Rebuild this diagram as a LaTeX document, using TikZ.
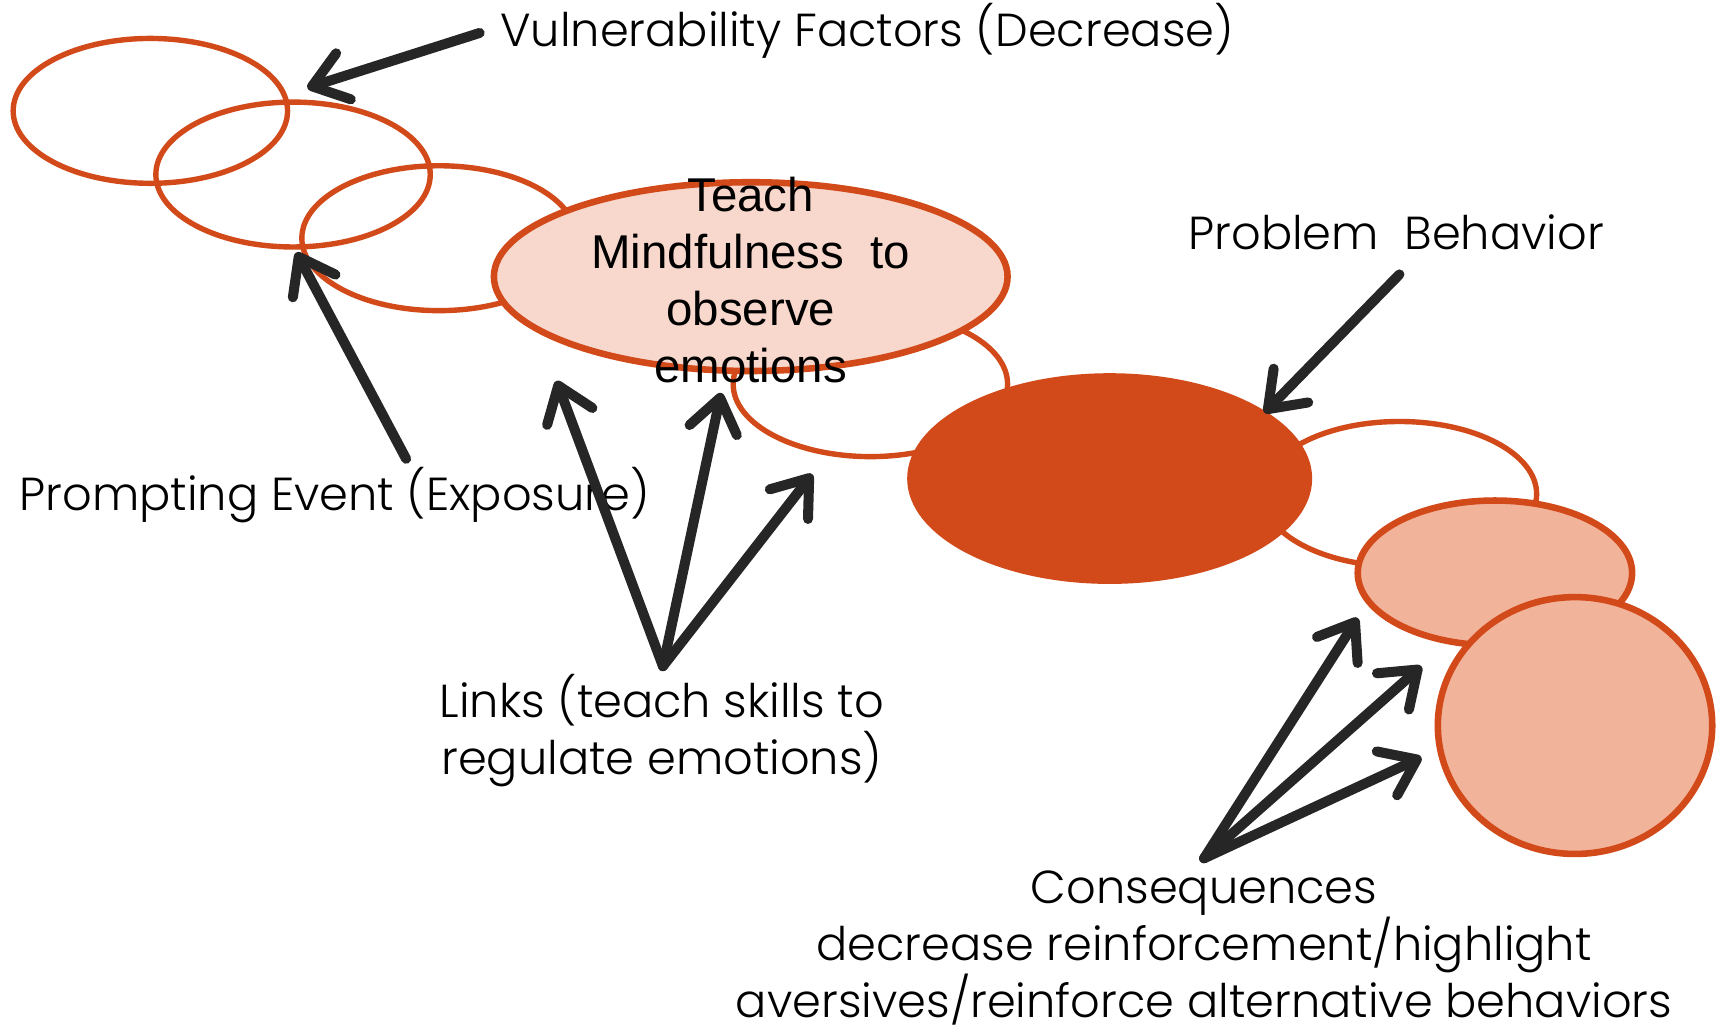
\documentclass[tikz,border=0pt]{standalone}
\usepackage{fontspec}
\usepackage{tikz}
\usetikzlibrary{shapes.geometric,arrows.meta}

\newfontfamily\gothic{Poppins}[UprightFont={* Light}]
\newfontfamily\arial{Liberation Sans}

\definecolor{rust}{HTML}{D24A1A}
\definecolor{blush}{HTML}{F8D8CC}
\definecolor{salmon}{HTML}{F2B39B}

\tikzset{
  ring/.style={ellipse, draw=rust, line width=1.4pt, inner sep=0pt,
    minimum width=2.5cm, minimum height=1.32cm},
  txt/.style={font=\gothic\fontsize{12}{14.8}\selectfont, align=center, inner sep=0pt},
  arr/.style={draw=black!85, line width=2.6pt, line cap=round,
    -{Straight Barb[length=3mm,width=4.4mm,round]}},
}

\begin{document}
\begin{tikzpicture}
  \useasboundingbox (0,0) rectangle (15.68,-9.40);

  % chain of links, back to front
  \node[ring] (e1) at (1.37,-1.01) {};
  \node[ring] (e2) at (2.67,-1.59) {};
  \node[ring] (e3) at (4.00,-2.17) {};
  \node[ring] (e5) at (7.93,-3.50) {};
  \node[ring, fill=blush, line width=1.7pt, minimum width=4.68cm, minimum height=1.72cm] (teach) at (6.84,-2.52) {};
  \node[ring] (e7) at (12.75,-4.50) {};
  \node[ellipse, fill=rust, inner sep=0pt, minimum width=3.69cm, minimum height=1.92cm] (prob) at (10.11,-4.36) {};
  \node[ring, fill=salmon, line width=1.7pt] (e8) at (13.62,-5.22) {};
  \node[ring, fill=salmon, line width=1.7pt, minimum height=2.34cm] (e9) at (14.35,-6.61) {};

  \node[align=center, inner sep=0pt, font=\arial\fontsize{12.3}{14.8}\selectfont] (teachtxt) at (6.84,-2.55)
    {Teach\\Mindfulness~ to\\observe\\emotions};

  % labels
  \node[txt] (vul) at (7.90,-0.28) {Vulnerability Factors (Decrease)};
  \node[txt] (prompt) at (3.05,-4.51) {Prompting Event (Exposure)};
  \node[txt] (pb) at (12.72,-2.12) {Problem~ Behavior};
  \node[txt] (links) at (6.03,-6.66) {Links (teach skills to\\regulate emotions)};
  \node[txt] (cons) at (10.97,-8.64) {Consequences\\decrease reinforcement/highlight\\aversives/reinforce alternative behaviors};

  % arrow ends
  \coordinate (vulT) at (4.37,-0.30);
  \coordinate (vulH) at (2.80,-0.80);
  \coordinate (prT) at (3.70,-4.18);
  \coordinate (prH) at (2.70,-2.30);
  \coordinate (pbT) at (12.75,-2.50);
  \coordinate (pbH) at (11.52,-3.76);
  \coordinate (lnO) at (6.04,-6.07);
  \coordinate (ln1) at (5.07,-3.47);
  \coordinate (ln2) at (6.57,-3.58);
  \coordinate (ln3) at (7.40,-4.32);
  \coordinate (csO) at (10.97,-7.82);
  \coordinate (cs1) at (12.37,-5.63);
  \coordinate (cs2) at (12.95,-6.07);
  \coordinate (cs3) at (12.95,-6.90);

  \draw[arr] (vulT) -- (vulH);
  \draw[arr] (prT) -- (prH);
  \draw[arr] (pbT) -- (pbH);
  \foreach \t in {ln1,ln2,ln3}
    \draw[arr] (lnO) -- (\t);
  \foreach \t in {cs1,cs2,cs3}
    \draw[arr] (csO) -- (\t);
\end{tikzpicture}
\end{document}
